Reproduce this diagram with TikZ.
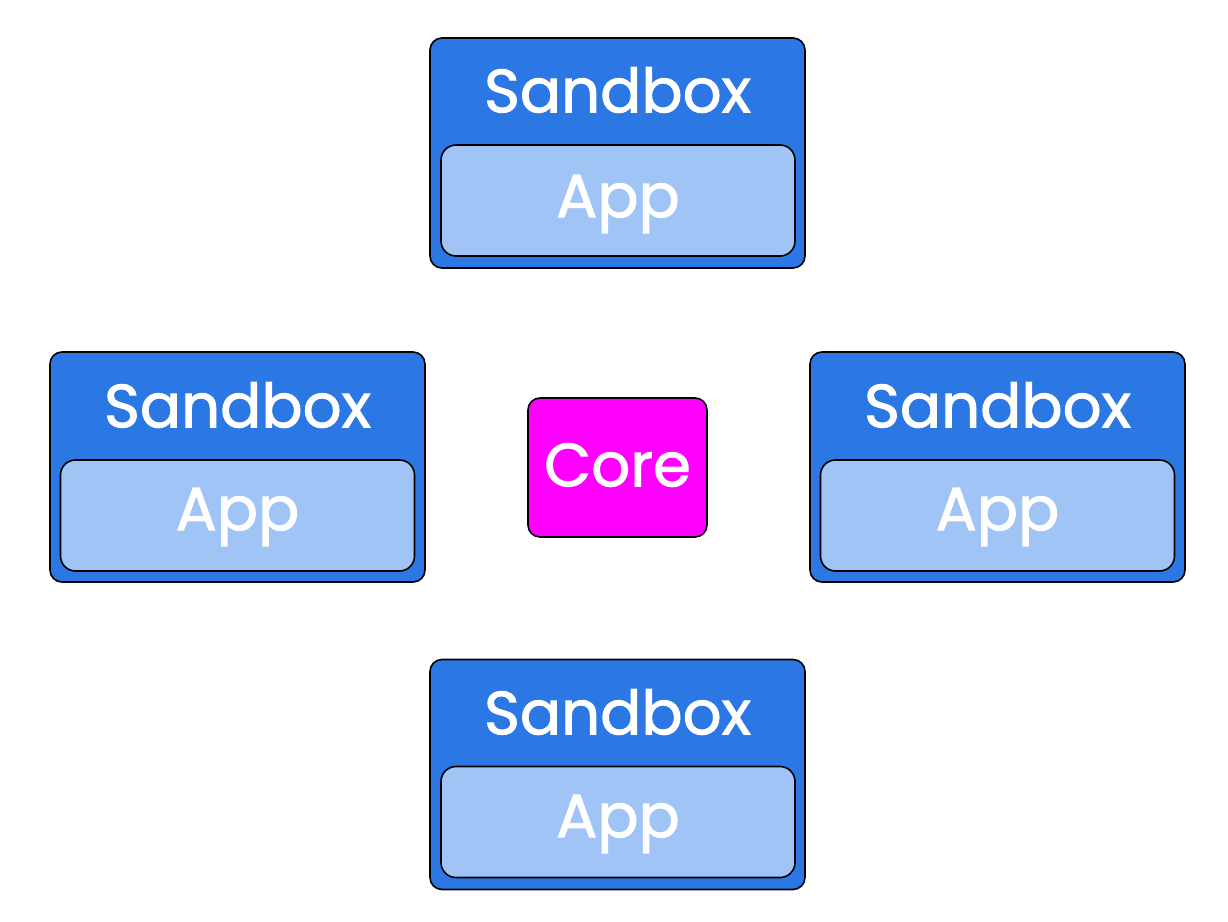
\documentclass[tikz,border=0pt]{standalone}
\usepackage{fontspec}
\setmainfont{Poppins}
\newfontfamily\lblfont[FakeBold=1.6]{Poppins}
\definecolor{sbblue}{HTML}{2B78E4}
\definecolor{appblue}{HTML}{A0C4F5}
\definecolor{coremag}{HTML}{FF00FF}
\begin{document}
\begin{tikzpicture}[x=1pt,y=-1pt,
  sandboxbox/.style={draw=black,line width=1.6pt,fill=sbblue,rounded corners=12pt,minimum width=375pt,minimum height=230pt,inner sep=0pt},
  appbox/.style={draw=black,line width=1.6pt,fill=appblue,rounded corners=15pt,minimum width=354pt,minimum height=111pt,inner sep=0pt},
  corebox/.style={draw=black,line width=1.6pt,fill=coremag,rounded corners=12pt,minimum width=179pt,minimum height=139pt,inner sep=0pt},
  lbl/.style={text=white,font=\lblfont\fontsize{61}{63}\selectfont,inner sep=0pt}
]
\useasboundingbox (0,0) rectangle (1228,921);
% top
\node[sandboxbox] (sbT) at (617.5,153) {};
\node[appbox] (appT) at (618,200.5) {};
\node[lbl] (sbTt) at (617.5,90) {Sandbox};
\node[lbl] (appTt) at (618,204) {App};
% left
\node[sandboxbox] (sbL) at (237.5,467) {};
\node[appbox] (appL) at (237.5,515.5) {};
\node[lbl] (sbLt) at (237.5,405) {Sandbox};
\node[lbl] (appLt) at (237.5,517) {App};
% right
\node[sandboxbox] (sbR) at (997.5,467) {};
\node[appbox] (appR) at (997.5,515.5) {};
\node[lbl] (sbRt) at (997.5,405) {Sandbox};
\node[lbl] (appRt) at (997.5,517) {App};
% bottom
\node[sandboxbox] (sbB) at (617.5,774.5) {};
\node[appbox] (appB) at (618,822) {};
\node[lbl] (sbBt) at (617.5,712) {Sandbox};
\node[lbl] (appBt) at (618,824) {App};
% core
\node[corebox] (core) at (617.5,467.5) {};
\node[lbl] (coret) at (617.5,465) {Core};
\end{tikzpicture}
\end{document}
